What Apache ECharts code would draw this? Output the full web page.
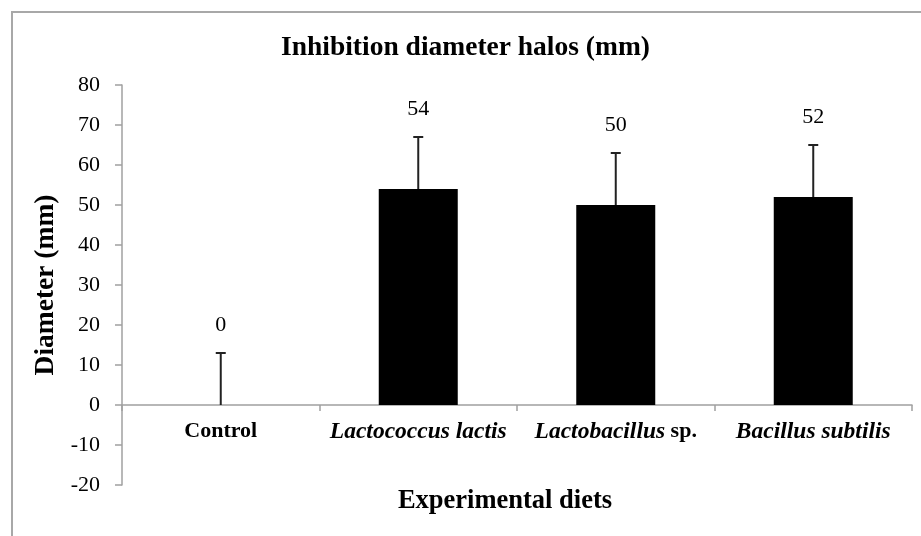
<!DOCTYPE html>
<html style="height: 100%">
<head>
    <meta charset="utf-8">
    <script src="https://cdn.jsdelivr.net/npm/echarts@6/dist/echarts.min.js"></script>
</head>
<body style="height: 100%; margin: 0; background: #fff">
    <div id="main" style="width: 921px; height: 536px;"></div>
    <script type="text/javascript">
    // data
    var categories = ['Control', 'Lactococcus lactis', 'Lactobacillus sp.', 'Bacillus subtilis'];
    var means = [0, 54, 50, 52];
    var errors = [13, 13, 13, 13];
    var yTicks = { min: -20, max: 80, step: 10 };

    var font = 'Liberation Serif, Times New Roman, serif';
    var axisGray = '#a0a0a0';

    var errData = means.map(function (m, i) { return [i, m, errors[i]]; });

    // category label styling (italic species names)
    function catLabel(v) {
        if (v === 'Control') return '{b|' + v + '}';
        if (v.slice(-4) === ' sp.') return '{bi|' + v.slice(0, -4) + '}{b| sp.}';
        return '{bi|' + v + '}';
    }

    var myChart = echarts.init(document.getElementById('main'));
    var option = {
        animation: false,
        backgroundColor: '#fff',
        graphic: [{
            type: 'rect',
            shape: { x: 12, y: 12, width: 1000, height: 1000 },
            style: { fill: null, stroke: '#a8a8a8', lineWidth: 2 },
            silent: true
        }],
        title: {
            text: 'Inhibition diameter halos (mm)',
            left: 276,
            top: 29,
            textStyle: { fontFamily: font, fontSize: 27.5, fontWeight: 'bold', color: '#000' }
        },
        grid: { left: 122, right: 9, top: 85, bottom: 51, outerBoundsMode: 'none', containLabel: false },
        xAxis: {
            type: 'category',
            data: categories,
            position: 'bottom',
            // the category axis sits on the zero line (grid is 400px for 100 units)
            offset: -80,
            name: 'Experimental diets',
            nameLocation: 'middle',
            nameGap: 83,
            nameTextStyle: {
                fontFamily: font, fontSize: 26.5, fontWeight: 'bold', color: '#000',
                padding: [0, 24, 0, 0]
            },
            axisLine: { onZero: false, lineStyle: { color: axisGray, width: 1.5 } },
            axisTick: { show: true, length: 6, lineStyle: { color: axisGray, width: 1.5 } },
            axisLabel: {
                margin: 15,
                formatter: catLabel,
                rich: {
                    b: { fontFamily: font, fontSize: 22, fontWeight: 'bold', color: '#000' },
                    bi: { fontFamily: font, fontSize: 23.5, fontWeight: 'bold', fontStyle: 'italic', color: '#000' }
                }
            }
        },
        yAxis: {
            type: 'value',
            min: yTicks.min,
            max: yTicks.max,
            interval: yTicks.step,
            name: 'Diameter (mm)',
            nameLocation: 'middle',
            nameGap: 62,
            nameTextStyle: { fontFamily: font, fontSize: 27.5, fontWeight: 'bold', color: '#000' },
            axisLine: { show: true, lineStyle: { color: axisGray, width: 1.5 } },
            axisTick: { show: true, length: 7, lineStyle: { color: axisGray, width: 1.5 } },
            axisLabel: { margin: 22, fontFamily: font, fontSize: 22, color: '#000' },
            splitLine: { show: false }
        },
        series: [
            {
                type: 'bar',
                data: means,
                barWidth: '40%',
                itemStyle: { color: '#000' },
                label: {
                    show: true,
                    position: 'top',
                    distance: 69,
                    fontFamily: font,
                    fontSize: 22,
                    color: '#000'
                },
                z: 2
            },
            {
                type: 'custom',
                data: errData,
                z: 3,
                renderItem: function (params, api) {
                    var i = api.value(0);
                    var base = api.coord([i, api.value(1)]);
                    var top = api.coord([i, api.value(1) + api.value(2)]);
                    var st = { stroke: '#222', lineWidth: 2 };
                    return {
                        type: 'group',
                        children: [
                            { type: 'line', shape: { x1: base[0], y1: base[1], x2: top[0], y2: top[1] }, style: st },
                            { type: 'line', shape: { x1: top[0] - 5, y1: top[1], x2: top[0] + 5, y2: top[1] }, style: st }
                        ]
                    };
                }
            }
        ]
    };
    myChart.setOption(option);
    </script>
</body>
</html>
